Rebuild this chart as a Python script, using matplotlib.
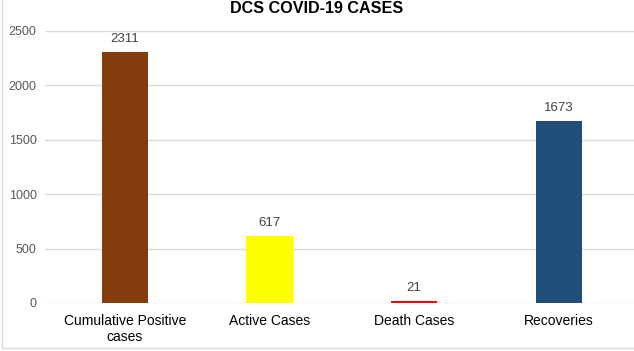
import matplotlib.pyplot as plt
from matplotlib.patches import Rectangle

categories = ['Cumulative Positive\ncases', 'Active Cases', 'Death Cases', 'Recoveries']
values = [2311, 617, 21, 1673]
colors = ['#843C0C', '#FFFF00', '#FF0000', '#1F4E79']
yticks = [0, 500, 1000, 1500, 2000, 2500]

plt.rcParams['font.family'] = ['Liberation Sans', 'DejaVu Sans']

fig = plt.figure(figsize=(6.34, 3.51), dpi=100)
ax = fig.add_axes([0.071, 0.1368, 0.929, 0.7749])

x = list(range(len(categories)))
bars = ax.bar(x, values, width=0.32, color=colors, zorder=3)

# value labels above each bar
for b, v in zip(bars, values):
    ax.text(b.get_x() + b.get_width() / 2, v + 60, str(v), ha='center', va='bottom',
            fontsize=9.5, color='#404040')

ax.set_xlim(-0.553, 3.52)
ax.set_ylim(0, 2500)
ax.set_yticks(yticks)
ax.set_xticks(x)
ax.set_xticklabels(categories, fontsize=10, color='#000000', linespacing=1.15)
ax.tick_params(axis='y', labelsize=9, labelcolor='#595959', length=0, pad=6)
ax.tick_params(axis='x', length=0, pad=8)
ax.grid(axis='y', color='#D9D9D9', linewidth=1, zorder=0)
for s in ax.spines.values():
    s.set_visible(False)

fig.text(0.5, 0.976, 'DCS COVID-19 CASES', ha='center', va='center',
         fontsize=11.6, fontweight='bold', color='#000000')

# light chart border
fig.patches.append(Rectangle((0.003, 0.008), 1.2, 1.2, transform=fig.transFigure,
                             fill=False, edgecolor='#D9D9D9', linewidth=1))

plt.savefig('out.png', dpi=100)
